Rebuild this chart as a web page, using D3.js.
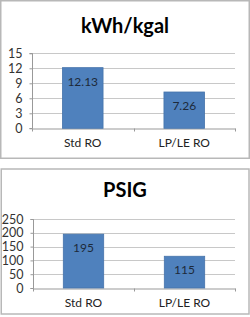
<!DOCTYPE html>
<html><head><meta charset="utf-8">
<script src="https://cdn.jsdelivr.net/npm/d3@7"></script>
<style>html,body{margin:0;padding:0;background:#fff;}svg{display:block;}</style>
</head><body>
<svg id="c" width="250" height="317"></svg>
<script>
const categories = ["Std RO", "LP/LE RO"];
const kwhValues = [12.13, 7.26];
const psigValues = [195, 115];
const kwhTicks = [0, 3, 6, 9, 12, 15];
const psigTicks = [0, 50, 100, 150, 200, 250];
const kwhLabels = ["12.13", "7.26"];
const psigLabels = ["195", "115"];

const svg = d3.select("#c");
const FONT = "Lato, 'Open Sans', sans-serif";

function panel(cfg) {
  const g = svg.append("g");
  g.append("rect").attr("x", cfg.box[0]).attr("y", cfg.box[1])
    .attr("width", cfg.box[2]).attr("height", cfg.box[3])
    .attr("fill", "#fff").attr("stroke", "#b8b8b8").attr("stroke-width", 1.5);
  g.append("text").attr("x", 125).attr("y", cfg.titleY).attr("text-anchor", "middle")
    .attr("font-family", FONT).attr("font-weight", "bold").attr("font-size", 20)
    .attr("fill", "#000").text(cfg.title);
  const x = d3.scaleBand().domain(categories).range([cfg.left, cfg.right]);
  const y = d3.scaleLinear().domain([0, cfg.ticks[cfg.ticks.length - 1]]).range([cfg.bottom, cfg.top]);
  g.selectAll(".grid").data(cfg.ticks.slice(1)).enter().append("line")
    .attr("x1", cfg.left).attr("x2", cfg.right)
    .attr("y1", d => Math.round(y(d)) + 0.5).attr("y2", d => Math.round(y(d)) + 0.5)
    .attr("stroke", "#c8c8c8").attr("stroke-width", 1);
  const ya = g.append("g").attr("transform", `translate(${cfg.left + 0.5},0)`)
    .call(d3.axisLeft(y).tickValues(cfg.ticks).tickSize(3).tickPadding(7));
  ya.select(".domain").attr("stroke", "#999").attr("d", `M-3,${Math.round(y(0))+0.5}H0V${Math.round(y(cfg.ticks[cfg.ticks.length-1]))+0.5}H-3`);
  ya.selectAll(".tick line").attr("stroke", "#999");
  ya.selectAll(".tick text").attr("font-family", FONT).attr("font-size", 12.5).attr("fill", "#333");
  const xa = g.append("g").attr("transform", `translate(0,${Math.round(y(0)) + 0.5})`)
    .call(d3.axisBottom(x).tickSize(0).tickPadding(10));
  xa.select(".domain").attr("stroke", "#999");
  xa.selectAll(".tick text").attr("font-family", FONT).attr("font-size", 12).attr("fill", "#222");
  g.selectAll(".bt").data([cfg.left, x(categories[1]), cfg.right]).enter().append("line")
    .attr("x1", d => Math.round(d) + 0.5).attr("x2", d => Math.round(d) + 0.5)
    .attr("y1", Math.round(y(0)) + 0.5).attr("y2", Math.round(y(0)) + 3.5)
    .attr("stroke", "#999");
  const bw = x.bandwidth() * 0.4;
  g.selectAll(".bar").data(cfg.values).enter().append("rect")
    .attr("x", (d, i) => x(categories[i]) + (x.bandwidth() - bw) / 2)
    .attr("y", d => y(d))
    .attr("width", bw).attr("height", d => y(0) - y(d))
    .attr("fill", "#4f81bd").attr("stroke", "#4674ab").attr("stroke-width", 0.8);
  g.selectAll(".lab").data(cfg.values).enter().append("text")
    .attr("x", (d, i) => x(categories[i]) + x.bandwidth() / 2)
    .attr("y", d => y(d) + 18)
    .attr("text-anchor", "middle").attr("font-family", FONT).attr("font-size", 12)
    .attr("fill", "#1d2a3a").text((d, i) => cfg.labels[i]);
}

panel({ box: [0.75, 0.75, 248.5, 157.5], title: "kWh/kgal", titleY: 33,
  left: 32, right: 235, top: 53.3, bottom: 128.3, ticks: kwhTicks, values: kwhValues, labels: kwhLabels });
panel({ box: [1.25, 169, 247.75, 145], title: "PSIG", titleY: 197,
  left: 33, right: 235, top: 219, bottom: 288, ticks: psigTicks, values: psigValues, labels: psigLabels });
</script>
</body></html>
